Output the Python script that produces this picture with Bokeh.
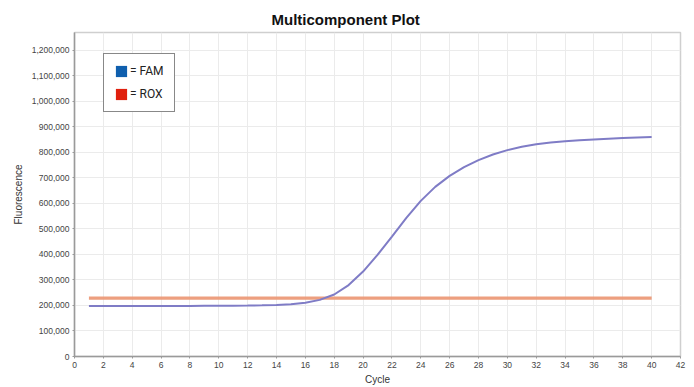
from bokeh.plotting import figure
from bokeh.models import (ColumnDataSource, Legend, LegendItem,
                          NumeralTickFormatter, FixedTicker, Range1d)
from bokeh.embed import file_html
from bokeh.resources import INLINE

# ---- data ----
cycles = list(range(1, 41))
fam = [198000, 198000, 198000, 198000, 198000, 198000, 198000, 198000, 198500, 199000,
       199000, 199500, 200500, 202000, 205000, 211000, 222000, 243000, 280000, 333000,
       398000, 470000, 543000, 610000, 665000, 708000, 742000, 770000, 792000, 809000,
       822000, 832000, 839000, 844000, 848000, 851000, 854000, 856000, 858000, 860000]
rox = [229000, 229000, 229000, 229000, 228500, 228500, 228500, 228500, 228500, 228500,
       228500, 228500, 228500, 228500, 228500, 228500, 228500, 228500, 228500, 228500,
       228500, 228500, 228500, 228500, 228500, 228500, 228500, 228500, 228500, 228500,
       228500, 228500, 228500, 228500, 228500, 228500, 228500, 228500, 228500, 228500]
x_ticks = list(range(0, 43, 2))
y_ticks = list(range(0, 1200001, 100000))
title_text = "Multicomponent Plot"
x_label = "Cycle"
y_label = "Fluorescence"
legend_labels = ["= FAM", "= ROX"]
legend_colors = ["#0f5fae", "#e0200e"]

W, H = 694, 387
p = figure(width=W, height=H, output_backend="svg", toolbar_location=None,
           x_range=Range1d(0, 42), y_range=Range1d(0, 1270000),
           min_border_left=74, min_border_right=14, min_border_top=32, min_border_bottom=30)
p.background_fill_color = "white"
p.border_fill_color = "white"
p.outline_line_color = "#cfcfcf"
p.outline_line_width = 1.5

# title
p.title.text = title_text
p.title.align = "left"
p.title.offset = 197
p.title.standoff = 9
p.title.text_font = "Liberation Sans"
p.title.text_font_style = "bold"
p.title.text_font_size = "15px"
p.title.text_color = "#111111"

# grids
p.xgrid.ticker = FixedTicker(ticks=x_ticks)
p.ygrid.ticker = FixedTicker(ticks=y_ticks)
p.xgrid.grid_line_color = "#ebebeb"
p.ygrid.grid_line_color = "#ebebeb"

# axes
for ax in (p.xaxis[0], p.yaxis[0]):
    ax.axis_line_color = "#9a9a9a"
    ax.axis_line_width = 1.5
    ax.major_tick_line_color = "#9a9a9a"
    ax.major_tick_in = 0
    ax.major_tick_out = 2
    ax.minor_tick_line_color = None
    ax.major_label_text_font = "Liberation Sans"
    ax.major_label_text_font_size = "8.5px"
    ax.major_label_text_color = "#444444"
    ax.major_label_standoff = 3
    ax.axis_label_text_font = "Liberation Sans"
    ax.axis_label_text_font_size = "10px"
    ax.axis_label_text_font_style = "normal"
    ax.axis_label_text_color = "#333333"
p.xaxis.ticker = FixedTicker(ticks=x_ticks)
p.yaxis.ticker = FixedTicker(ticks=y_ticks)
p.yaxis.formatter = NumeralTickFormatter(format="0,0")
p.xaxis.axis_label = x_label
p.yaxis.axis_label = y_label
p.xaxis.axis_label_standoff = 3
p.yaxis.axis_label_standoff = 5

src = ColumnDataSource(dict(cycle=cycles, fam=fam, rox=rox))
p.line("cycle", "rox", source=src, line_color="#ec9a78", line_width=3.2, line_alpha=0.95)
p.line("cycle", "fam", source=src, line_color="#7f7cc6", line_width=2.0)

# legend with square swatches (area glyphs with no visible data)
nan = float("nan")
sw1 = p.quad(left=[nan], right=[nan], bottom=[nan], top=[nan],
             fill_color=legend_colors[0], line_color=None)
sw2 = p.quad(left=[nan], right=[nan], bottom=[nan], top=[nan],
             fill_color=legend_colors[1], line_color=None)
leg = Legend(items=[LegendItem(label=legend_labels[0], renderers=[sw1]),
                    LegendItem(label=legend_labels[1], renderers=[sw2])],
             location=(29, 244))
leg.border_line_color = "#111111"
leg.border_line_width = 1.5
leg.background_fill_color = "white"
leg.background_fill_alpha = 1
leg.padding = 10
leg.spacing = 9
leg.margin = 0
leg.glyph_width = 14
leg.glyph_height = 14
leg.label_height = 14
leg.label_standoff = 2
leg.label_text_font = "Roboto"
leg.label_text_font_size = "12px"
leg.label_text_color = "#222222"
p.add_layout(leg, "center")

open("out.html", "w").write(file_html(p, INLINE))
